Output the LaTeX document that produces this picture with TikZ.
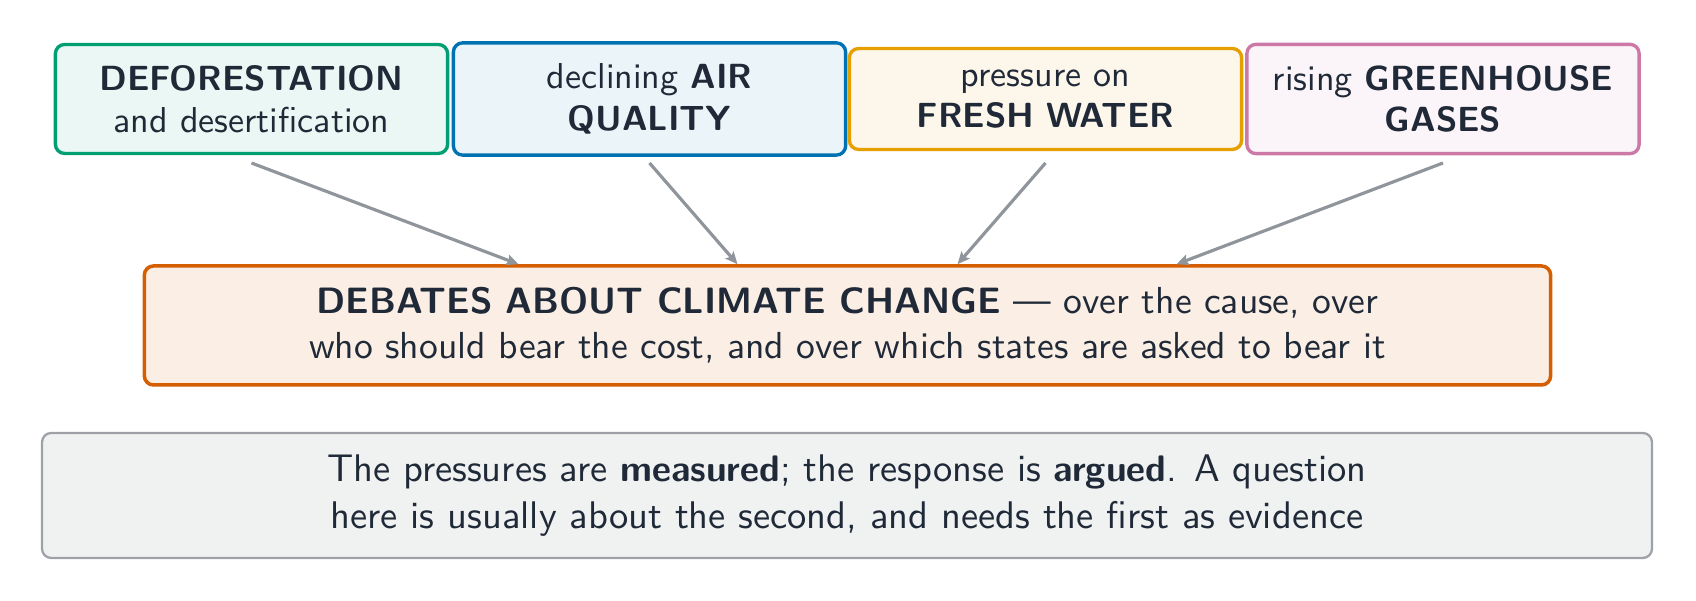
\documentclass[tikz,border=0pt]{standalone}
\usetikzlibrary{arrows.meta,calc}
\definecolor{ink}{HTML}{1F2937}
\definecolor{cgreen}{HTML}{009E73}
\definecolor{cblue}{HTML}{0072B2}
\definecolor{corange}{HTML}{E69F00}
\definecolor{cpink}{HTML}{CC79A7}
\definecolor{cverm}{HTML}{D55E00}
\definecolor{cgray}{HTML}{9EA2A7}
\definecolor{cgrayfill}{HTML}{F0F2F2}
\definecolor{carrow}{HTML}{8F959B}
\newcommand{\bta}[1]{{\bfseries\fontsize{9.93}{11.8}\selectfont #1}}
\newcommand{\btm}[1]{{\bfseries\fontsize{10.43}{12.8}\selectfont #1}}
\newcommand{\btn}[1]{{\bfseries\fontsize{10.5}{13.3}\selectfont #1}}
\begin{document}
\begin{tikzpicture}[x=0.01cm,y=-0.01cm,
  topbox/.style={draw=#1, fill=#1!8, line width=0.95pt, rounded corners=2.6pt,
    text width=3.92cm, inner xsep=0pt, inner ysep=0.21cm, align=center,
    text=ink, font={\sffamily\fontsize{10.24}{11.8}\selectfont}},
  midbox/.style={draw=cverm, fill=cverm!10, line width=1pt, rounded corners=2.6pt,
    minimum width=14.055cm, inner ysep=0.215cm, align=center,
    text=ink, font={\sffamily\fontsize{10.7}{12.8}\selectfont}},
  notebox/.style={draw=cgray, fill=cgrayfill, line width=0.65pt, rounded corners=2.6pt,
    minimum width=16.09cm, inner ysep=0.218cm, align=center,
    text=ink, font={\sffamily\fontsize{10.95}{13.3}\selectfont}},
  arr/.style={draw=carrow, line width=0.9pt,
    -{Stealth[length=3.5pt,width=3.1pt,inset=0.7pt]}}
]
\useasboundingbox (0,0) rectangle (1696,601);

\node[topbox=cgreen]  (b1) at (251.5,99) {\bta{DEFORESTATION}\\and desertification};
\node[topbox=cblue]   (b2) at (649.5,99) {declining \bta{AIR}\\\bta{QUALITY}};
\node[topbox=corange] (b3) at (1045.5,99) {pressure on\\\bta{FRESH WATER}};
\node[topbox=cpink]   (b4) at (1443,99) {rising \bta{GREENHOUSE}\\\bta{GASES}};

\node[midbox] (mid) at (847.5,325.5) {\btm{DEBATES ABOUT CLIMATE CHANGE} — over the cause, over\\who should bear the cost, and over which states are asked to bear it};

\node[notebox] (note) at (847,495.5) {The pressures are \btn{measured}; the response is \btn{argued}. A question\\here is usually about the second, and needs the first as evidence};

\coordinate (srow) at (0,163);
\draw[arr] (b1.south |- srow) -- ($(mid.north)+(-329,0)$);
\draw[arr] (b2.south |- srow) -- ($(mid.north)+(-110,0)$);
\draw[arr] (b3.south |- srow) -- ($(mid.north)+(110,0)$);
\draw[arr] (b4.south |- srow) -- ($(mid.north)+(329,0)$);
\end{tikzpicture}
\end{document}
